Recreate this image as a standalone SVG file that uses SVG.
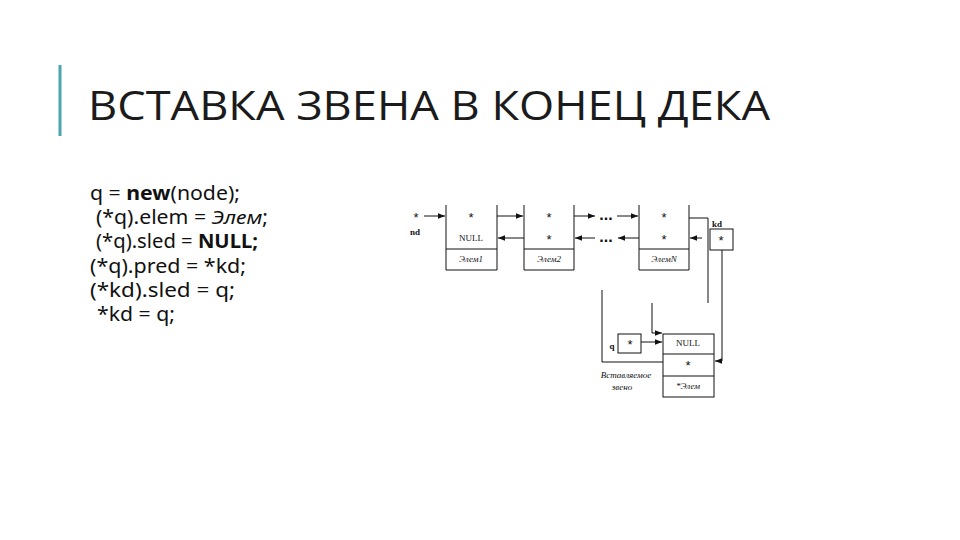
<svg xmlns="http://www.w3.org/2000/svg" width="960" height="540" viewBox="0 0 960 540">
<style>
.t{font-family:"Open Sans","Noto Sans",sans-serif;fill:#1b1b1b}
.c{font-family:"Noto Sans","Liberation Sans",sans-serif;font-size:19px;fill:#111}
.s{font-family:"Liberation Serif",serif;font-size:9px;fill:#111;text-anchor:middle}
.a{font-family:"Liberation Sans",sans-serif;font-size:13px;fill:#111;text-anchor:middle}
.d{font-family:"Liberation Sans",sans-serif;font-size:16px;font-weight:bold;fill:#111;text-anchor:middle}
.i{font-style:italic}
.ln{stroke:#111;stroke-width:1;fill:none}
.bx{stroke:#111;stroke-width:1;fill:#fff}
</style>
<defs>
<marker id="a" viewBox="0 0 10 10" refX="10" refY="5" markerWidth="7" markerHeight="7" orient="auto" markerUnits="userSpaceOnUse"><path d="M0,1 L10,5 L0,9 Z" fill="#111"/></marker>
</defs>
<rect width="960" height="540" fill="#fff"/>
<line x1="60" y1="65" x2="60" y2="136" stroke="#4aa6ac" stroke-width="3"/>
<text class="t" x="88" y="120" font-size="40" textLength="682" lengthAdjust="spacingAndGlyphs">ВСТАВКА ЗВЕНА В КОНЕЦ ДЕКА</text>
<g id="code">
<text class="c" x="90" y="200" textLength="150" lengthAdjust="spacingAndGlyphs">q = <tspan font-weight="bold">new</tspan>(node);</text>
<text class="c" x="96" y="224" textLength="172" lengthAdjust="spacingAndGlyphs">(*q).elem = <tspan class="i">Элем</tspan>;</text>
<text class="c" x="96" y="248" textLength="162" lengthAdjust="spacingAndGlyphs">(*q).sled = <tspan font-weight="bold">NULL;</tspan></text>
<text class="c" x="90" y="273" textLength="156" lengthAdjust="spacingAndGlyphs">(*q).pred = *kd;</text>
<text class="c" x="90" y="297" textLength="145" lengthAdjust="spacingAndGlyphs">(*kd).sled = q;</text>
<text class="c" x="97" y="321" textLength="78" lengthAdjust="spacingAndGlyphs">*kd = q;</text>
</g>
<g id="nd">
<text class="a" x="416" y="222">*</text>
<text class="s" x="415" y="235" font-weight="bold">nd</text>
</g>
<g id="n1">
<path class="ln" d="M446,205 V270 H497 V205 M446,249 H497"/>
<text class="a" x="471" y="222">*</text>
<text class="s" x="471" y="241">NULL</text>
<text class="s i" x="471" y="262">Элем1</text>
</g>
<g id="n2">
<path class="ln" d="M524,205 V270 H574 V205 M524,249 H574"/>
<text class="a" x="549" y="222">*</text>
<text class="a" x="549" y="244">*</text>
<text class="s i" x="549" y="262">Элем2</text>
</g>
<g id="dots">
<text class="d" x="606" y="220">...</text>
<text class="d" x="606" y="242">...</text>
</g>
<g id="nN">
<path class="ln" d="M639,205 V270 H689 V205 M639,249 H689"/>
<text class="a" x="664" y="222">*</text>
<text class="a" x="664" y="244">*</text>
<text class="s i" x="664" y="262">ЭлемN</text>
</g>
<g id="kd">
<text class="s" x="717" y="227" font-weight="bold">kd</text>
<rect class="bx" x="710" y="229" width="23" height="21"/>
<text class="a" x="721" y="245">*</text>
</g>
<g id="newnode">
<rect class="bx" x="663" y="334" width="51" height="63"/>
<path class="ln" d="M663,354 H714 M663,376 H714"/>
<text class="s" x="688" y="346">NULL</text>
<text class="a" x="688" y="370">*</text>
<text class="s i" x="688" y="389">*Элем</text>
</g>
<g id="q">
<rect class="bx" x="618" y="334" width="23" height="19"/>
<text class="a" x="630" y="349">*</text>
<text class="s" x="612" y="349" font-weight="bold" font-size="8">q</text>
<text class="s i" x="626" y="378">Вставляемое</text>
<text class="s i" x="622" y="390">звено</text>
</g>
<g id="connectors">
<line class="ln" x1="424" y1="216" x2="445" y2="216" marker-end="url(#a)"/>
<line class="ln" x1="497" y1="216" x2="523" y2="216" marker-end="url(#a)"/>
<line class="ln" x1="524" y1="238" x2="498" y2="238" marker-end="url(#a)"/>
<line class="ln" x1="574" y1="216" x2="595" y2="216" marker-end="url(#a)"/>
<line class="ln" x1="617" y1="216" x2="638" y2="216" marker-end="url(#a)"/>
<line class="ln" x1="595" y1="238" x2="575" y2="238" marker-end="url(#a)"/>
<line class="ln" x1="639" y1="238" x2="618" y2="238" marker-end="url(#a)"/>
<path class="ln" d="M689,218 H708 V303"/>
<line class="ln" x1="702" y1="238" x2="690" y2="238" marker-end="url(#a)"/>
<path class="ln" d="M722,250 V361 H715" marker-end="url(#a)"/>
<path class="ln" d="M602,290 V362 H663"/>
<path class="ln" d="M652,303 V333 H662" marker-end="url(#a)"/>
<line class="ln" x1="641" y1="342" x2="662" y2="342" marker-end="url(#a)"/>
</g>
</svg>
